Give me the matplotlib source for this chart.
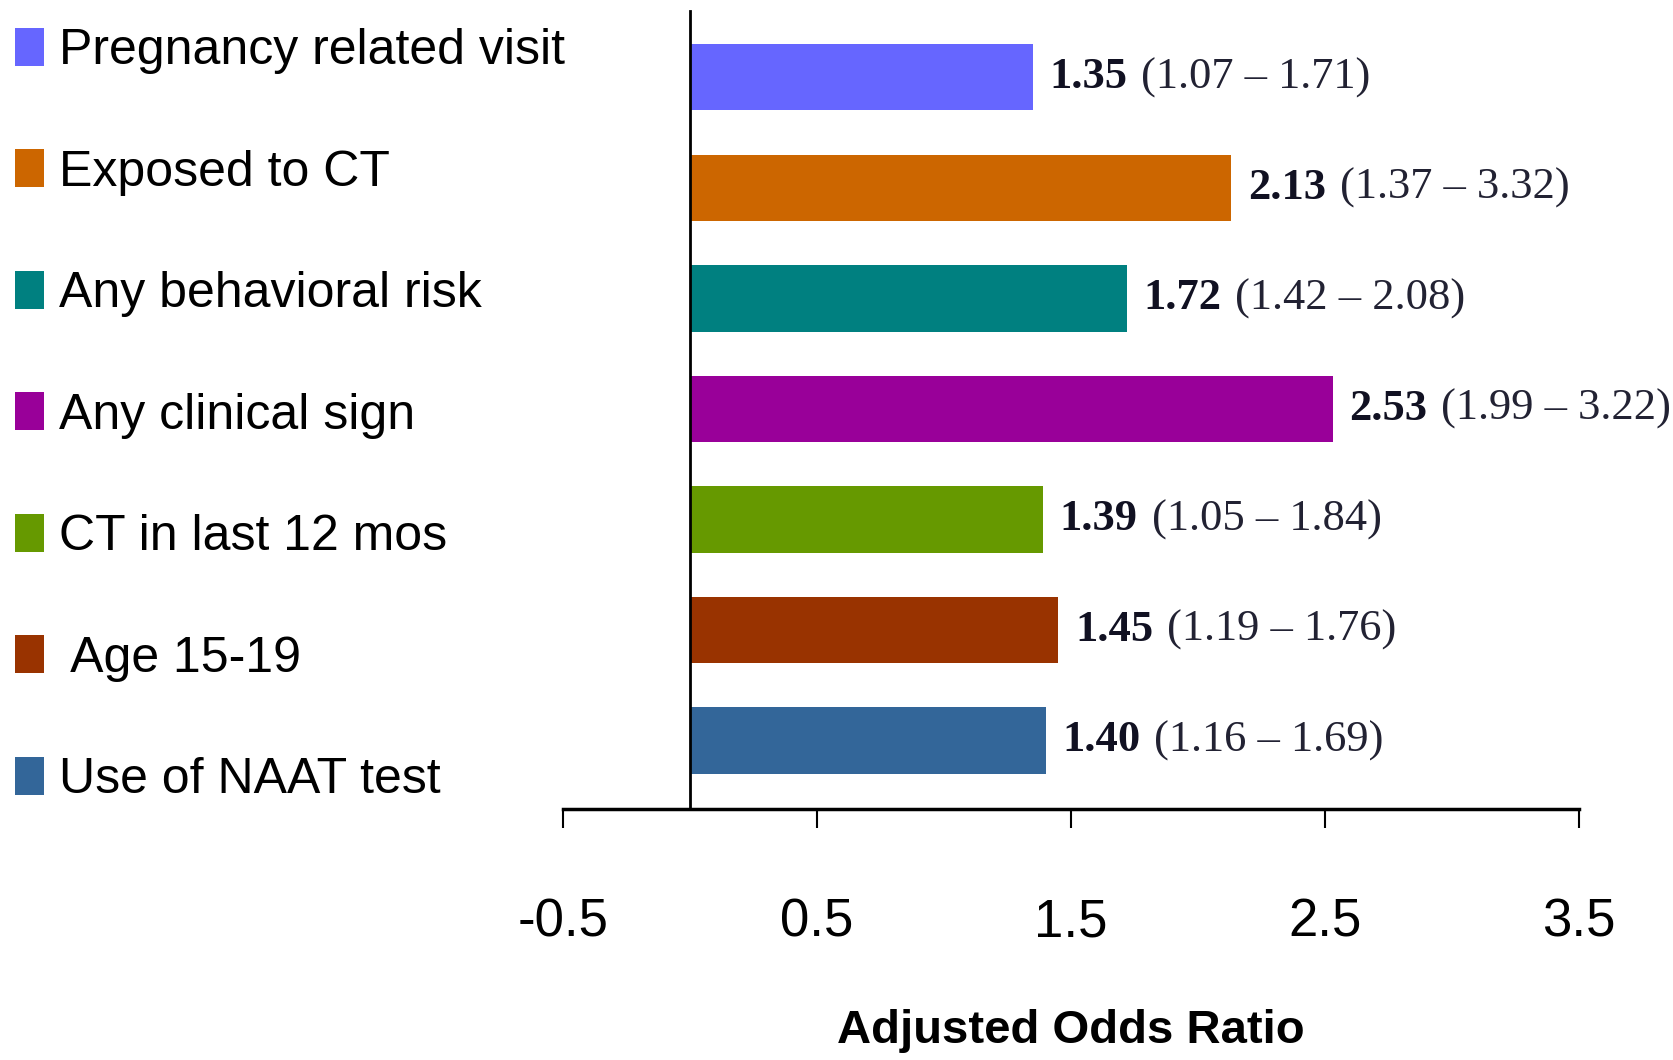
import matplotlib
matplotlib.use("Agg")
import matplotlib.pyplot as plt
import numpy as np

categories = ['Pregnancy related visit', 'Exposed to CT', 'Any behavioral risk',
              'Any clinical sign', 'CT in last 12 mos', ' Age 15-19', 'Use of NAAT test']
aor = [1.35, 2.13, 1.72, 2.53, 1.39, 1.45, 1.40]
ci_low = [1.07, 1.37, 1.42, 1.99, 1.05, 1.19, 1.16]
ci_high = [1.71, 3.32, 2.08, 3.22, 1.84, 1.76, 1.69]
colors = ['#6666FF', '#CC6600', '#008080', '#990099', '#669900', '#993300', '#336699']
xticks = [-0.5, 0.5, 1.5, 2.5, 3.5]

sans = ['Liberation Sans', 'DejaVu Sans']
serif = ['Liberation Serif', 'DejaVu Serif']

fig = plt.figure(figsize=(16.73, 10.6), dpi=100)
ax = fig.add_axes([0.3365, 0.2368, 0.6073, 0.7528])

n = len(categories)
ypos = np.arange(n)[::-1]
bars = ax.barh(ypos, aor, height=0.6, color=colors)

for y, v, lo, hi in zip(ypos, aor, ci_low, ci_high):
    t = ax.annotate(f'{v:.2f}', xy=(v, y), xytext=(12, 0), textcoords='offset points',
                    va='center', ha='left', fontsize=32, fontweight='bold', family=serif,
                    color='#111122')
    ax.annotate(f'({lo:.2f} \u2013 {hi:.2f})', xy=(1, 0.5), xycoords=t, xytext=(10, 0),
                textcoords='offset points', va='center', ha='left', fontsize=32,
                family=serif, color='#222233')

ax.set_xlim(-0.5, 3.5)
ax.set_ylim(-0.62, 6.6)
ax.set_xticks(xticks)
ax.set_xticklabels([str(x) for x in xticks], family=sans, fontsize=38)
ax.set_yticks([])
ax.tick_params(axis='x', direction='out', length=14, width=1.5, pad=50)
ax.spines['left'].set_position(('data', 0))
ax.spines['left'].set_linewidth(2)
ax.spines['bottom'].set_linewidth(2.5)
ax.spines['top'].set_visible(False)
ax.spines['right'].set_visible(False)
ax.set_xlabel('Adjusted Odds Ratio', family=sans, fontsize=34, fontweight='bold', labelpad=44)

leg = ax.legend(bars, categories, loc='upper left', bbox_to_anchor=(0.009, 0.974),
                bbox_transform=fig.transFigure, frameon=False, prop={'family': sans, 'size': 36},
                handlelength=0.58, handleheight=0.8, handletextpad=0.3, labelspacing=1.5,
                borderpad=0, borderaxespad=0)

fig.savefig('out.png', dpi=100)
